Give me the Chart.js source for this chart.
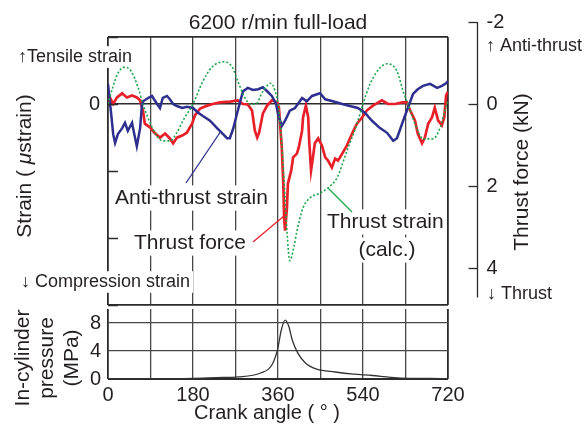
<!DOCTYPE html>
<html><head><meta charset="utf-8">
<script src="https://cdn.jsdelivr.net/npm/chart.js@4/dist/chart.umd.min.js"></script>
<style>
html,body{margin:0;padding:0;background:#fff;}
#wrap{position:relative;width:584px;height:428px;overflow:hidden;}
canvas{position:absolute;left:0;top:0;}
</style>
</head><body>
<div id="wrap"><canvas id="top" width="584" height="428"></canvas><canvas id="bot" width="584" height="428"></canvas></div>
<script>
// ---------- DATA ----------
const crankLabels = [0, 180, 360, 540, 720];
const thrustTicks = [-2, 0, 2, 4];
const pressureLabels = [0, 4, 8];

// Thrust strain (calc.) - green dotted, strain units (μstrain, 100 per division)
const calcDeg = [0,11,21,36,49,64,74,89,104,116,131,144,161,180,199,220,246,263,275,288,301,313,328,345,354,360,366,373,379,385,394,400,413,428,449,466,485,506,527,540,555,576,591,612,625,635,654,667,688,703,716,720];
const calcStrain = [0,27,46,55,49,24,0,-28,-48,-55,-55,-45,-22,0,31,55,63,55,34,12,0,0,19,31,19,0,-40,-115,-190,-234,-212,-190,-155,-140,-133,-125,-110,-70,-30,0,30,54,60,49,19,0,-36,-52,-52,-36,-3,4];

// Anti-thrust strain - blue
const antiDeg = [0,6,11,15,21,30,36,42,51,53,61,68,72,74,85,93,104,110,116,125,131,138,146,157,167,180,191,201,216,231,241,252,258,265,273,280,286,296,307,318,328,337,347,356,360,368,375,385,396,411,421,432,449,460,476,496,512,529,544,559,576,591,604,612,625,635,646,656,667,682,697,707,716,720];
const antiStrain = [30,-10,-45,-58,-45,-36,-28,-40,-28,-36,-63,-36,0,4,9,12,0,-6,9,12,7,0,-3,-6,-4,-6,-13,-18,-25,-36,-43,-51,-51,-37,-15,4,19,24,21,22,25,19,12,0,-15,-33,-25,-10,-6,9,4,12,16,7,4,0,-3,-6,-13,-25,-36,-43,-55,-51,-25,-6,15,22,27,30,24,27,31,34];

// Thrust force (kN) - red, right axis (positive = thrust, downward)
const forceDeg = [0,4,11,19,30,40,51,61,68,74,78,89,100,110,121,131,138,146,157,167,178,184,195,210,222,237,258,275,286,296,305,311,316,320,328,337,347,358,362,368,371,373,375,379,381,388,392,400,404,411,413,419,424,426,430,434,438,445,453,460,466,474,481,487,496,506,517,527,538,548,561,580,593,608,623,633,640,650,656,665,671,678,686,692,699,707,712,716,720];
const forceKN = [0,-0.16,0,-0.16,-0.26,-0.16,-0.21,-0.16,-0.09,0.16,0.48,0.57,0.72,0.82,0.72,0.84,0.96,0.82,0.77,0.70,0.48,0.28,0.11,0.04,0,-0.04,-0.06,-0.09,0,0.01,0.16,0.65,0.82,0.70,0.23,0.04,-0.09,-0.04,0.09,1.06,1.87,2.77,3.09,2.52,1.94,1.62,1.30,1.21,1.06,0.65,0.33,0.04,0.33,0.89,1.62,1.30,0.96,0.84,1.01,1.30,1.38,1.55,1.33,1.38,1.21,1.01,0.72,0.48,0.33,0.16,0.04,-0.09,0,0,-0.04,-0.04,0.16,0.40,0.72,0.96,0.82,0.48,0.33,0.09,0.40,0.52,0.33,-0.21,-0.30];

// In-cylinder pressure (MPa)
const presDeg = [0,90,180,230,276,323,347,359,367,375,383,390,402,418,442,481,520,560,599,639,680,720];
const presMPa = [0.05,0.05,0.1,0.2,0.3,0.86,2.0,4.2,7.0,8.4,7.5,5.6,3.7,2.3,1.4,1.0,0.7,0.5,0.24,0.1,0.08,0.05];

// axis ranges
const strainMin = -300, strainMax = 100;
const forceTop = -1.634, forceBottom = 4.902, forceAxisEnd = 4.72;

// ---------- STYLE ----------
const FONT = '"Liberation Sans", Arial, Helvetica, sans-serif';
const INK = '#231f20';
const GRID = '#474747';
const FRAME = '#2b2b2b';
const BLUE = '#2e2f8e';
const RED = '#e8202a';
const GREEN = '#1da64a';
Chart.defaults.font.family = FONT;
Chart.defaults.color = INK;

const zip = (xs, ys) => xs.map((x, i) => ({x, y: ys[i]}));

function textAt(ctx, s, x, y, size, align, box) {
  ctx.font = size + 'px ' + FONT;
  const w = ctx.measureText(s).width;
  const lx = align === 'center' ? x - w / 2 : x;
  if (box) { ctx.fillStyle = '#fff'; ctx.fillRect(lx - 3, y - size * 0.6, w + 6, size * 1.2); }
  ctx.fillStyle = INK; ctx.textAlign = 'left'; ctx.textBaseline = 'middle';
  ctx.fillText(s, lx, y);
}
function rotText(ctx, parts, cx, cy, size) {
  ctx.save();
  ctx.translate(cx, cy); ctx.rotate(-Math.PI / 2);
  ctx.textBaseline = 'middle'; ctx.textAlign = 'left'; ctx.fillStyle = INK;
  let total = 0; const ws = [];
  parts.forEach(p => { ctx.font = (p.i ? 'italic ' : '') + size + 'px ' + FONT; const w = ctx.measureText(p.t).width; ws.push(w); total += w; });
  let x = -total / 2;
  parts.forEach((p, k) => { ctx.font = (p.i ? 'italic ' : '') + size + 'px ' + FONT; ctx.fillText(p.t, x, 0); x += ws[k]; });
  ctx.restore();
}
function seg(ctx, color, x1, y1, x2, y2, w) {
  ctx.save(); ctx.strokeStyle = color; ctx.lineWidth = w || 1.3;
  ctx.beginPath(); ctx.moveTo(x1, y1); ctx.lineTo(x2, y2); ctx.stroke(); ctx.restore();
}

const topDecor = {
  id: 'topDecor',
  beforeDatasetsDraw(chart) {
    const ctx = chart.ctx;
    ctx.save();
    textAt(ctx, '\u2191Tensile strain', 18, 57, 18, 'left', true);
    textAt(ctx, '\u2193 Compression strain', 21, 282, 18, 'left', true);
    textAt(ctx, 'Anti-thrust strain', 115, 198, 21, 'left', true);
    textAt(ctx, 'Thrust force', 134, 243, 21, 'left', true);
    textAt(ctx, 'Thrust strain', 327, 222, 21, 'left', true);
    textAt(ctx, '(calc.)', 387, 250, 21, 'center', true);
    ctx.restore();
  },
  afterDraw(chart) {
    const ctx = chart.ctx, sy = chart.scales.y, s2 = chart.scales.y2, ca = chart.chartArea;
    ctx.save();
    // inward ticks on left strain axis
    ctx.strokeStyle = FRAME; ctx.lineWidth = 1.5;
    sy.ticks.forEach(t => {
      const y = Math.round(sy.getPixelForValue(t.value)) + 0.5;
      ctx.beginPath(); ctx.moveTo(ca.left, y); ctx.lineTo(ca.left + 10, y); ctx.stroke();
    });
    // right thrust force axis
    const ax = 477.5;
    ctx.lineWidth = 1.3;
    ctx.beginPath(); ctx.moveTo(ax, s2.getPixelForValue(thrustTicks[0])); ctx.lineTo(ax, s2.getPixelForValue(forceAxisEnd)); ctx.stroke();
    thrustTicks.forEach(v => {
      const y = Math.round(s2.getPixelForValue(v)) + 0.5;
      ctx.beginPath(); ctx.moveTo(ax - 9, y); ctx.lineTo(ax, y); ctx.stroke();
      textAt(ctx, String(v), ax + 9, y, 20, 'left', false);
    });
    textAt(ctx, '\u2191 Anti-thrust', 486, 46, 18, 'left', false);
    textAt(ctx, '\u2193 Thrust', 487, 294, 18, 'left', false);
    // title and axis titles
    textAt(ctx, '6200 r/min full-load', 278, 23, 21, 'center', false);
    rotText(ctx, [{t: 'Strain ( '}, {t: '\u03bc', i: true}, {t: 'strain)'}], 25, 166, 21);
    rotText(ctx, [{t: 'Thrust force (kN)'}], 522, 172, 21);
    // leader lines
    seg(ctx, BLUE, 186, 183, 221, 131, 1.3);
    seg(ctx, RED, 253, 242, 284, 216, 1.3);
    seg(ctx, GREEN, 328, 188, 352, 212, 1.3);
    ctx.restore();
  }
};

const topChart = new Chart(document.getElementById('top'), {
  type: 'line',
  data: {
    datasets: [
      {label: 'Thrust strain (calc.)', data: zip(calcDeg, calcStrain), yAxisID: 'y', borderColor: GREEN, borderWidth: 1.6, borderDash: [2, 2], pointRadius: 0, cubicInterpolationMode: 'monotone', fill: false},
      {label: 'Anti-thrust strain', data: zip(antiDeg, antiStrain), yAxisID: 'y', borderColor: BLUE, borderWidth: 2.5, pointRadius: 0, tension: 0, fill: false},
      {label: 'Thrust force', data: zip(forceDeg, forceKN), yAxisID: 'y2', borderColor: RED, borderWidth: 2.7, pointRadius: 0, tension: 0, fill: false}
    ]
  },
  options: {
    responsive: false, animation: false, events: [],
    layout: {padding: {left: 0, right: 136, top: 37, bottom: 0}},
    plugins: {legend: {display: false}, tooltip: {enabled: false}, title: {display: false}},
    scales: {
      x: {
        type: 'linear', min: 0, max: 720,
        ticks: {stepSize: 90, display: false},
        grid: {drawTicks: false, color: c => (c.tick.value === 0 || c.tick.value === 720) ? FRAME : GRID, lineWidth: c => (c.tick.value === 0 || c.tick.value === 720) ? 1.8 : 1.3},
        border: {display: false},
        afterFit: s => { s.height = 123; }
      },
      y: {
        type: 'linear', min: strainMin, max: strainMax,
        ticks: {stepSize: 100, callback: v => v === 0 ? '0' : '', font: {size: 20}, color: INK, padding: 8},
        grid: {drawTicks: false, color: c => (c.tick.value === 0 || c.tick.value === strainMax || c.tick.value === strainMin) ? FRAME : 'rgba(0,0,0,0)', lineWidth: c => c.tick.value === 0 ? 1.5 : 1.8},
        border: {display: false},
        afterFit: s => { s.width = 108; }
      },
      y2: {type: 'linear', position: 'right', min: forceTop, max: forceBottom, reverse: true, display: false}
    }
  },
  plugins: [topDecor]
});

const botDecor = {
  id: 'botDecor',
  afterDraw(chart) {
    const ctx = chart.ctx;
    ctx.save();
    rotText(ctx, [{t: 'In-cylinder'}], 23, 358, 21);
    rotText(ctx, [{t: 'pressure'}], 47, 358, 21);
    rotText(ctx, [{t: '(MPa)'}], 72, 358, 21);
    textAt(ctx, 'Crank angle ( \u00b0 )', 267, 413, 20, 'center', false);
    ctx.restore();
  }
};

const botChart = new Chart(document.getElementById('bot'), {
  type: 'line',
  data: {
    datasets: [
      {label: 'In-cylinder pressure', data: zip(presDeg, presMPa), borderColor: '#333', borderWidth: 1.3, pointRadius: 0, cubicInterpolationMode: 'monotone', fill: false}
    ]
  },
  options: {
    responsive: false, animation: false, events: [],
    layout: {padding: {left: 0, right: 136, top: 309, bottom: 0}},
    plugins: {legend: {display: false}, tooltip: {enabled: false}},
    scales: {
      x: {
        type: 'linear', min: 0, max: 720,
        ticks: {stepSize: 90, autoSkip: false, maxRotation: 0, callback: v => crankLabels.includes(v) ? String(v) : '', font: {size: 20}, color: INK, padding: 4},
        grid: {drawTicks: false, color: c => (c.tick.value === 0 || c.tick.value === 720) ? FRAME : GRID, lineWidth: c => (c.tick.value === 0 || c.tick.value === 720) ? 1.8 : 1.3},
        border: {display: false},
        afterFit: s => { s.height = 49; }
      },
      y: {
        type: 'linear', min: 0, max: 10,
        ticks: {stepSize: 2, callback: v => pressureLabels.includes(v) ? String(v) : '', font: {size: 20}, color: INK, padding: 7},
        grid: {drawTicks: false, color: c => (c.tick.value === 0 || c.tick.value === 10) ? FRAME : GRID, lineWidth: c => (c.tick.value === 0 || c.tick.value === 10) ? 2 : 1.3},
        border: {display: false},
        afterFit: s => { s.width = 108; }
      }
    }
  },
  plugins: [botDecor]
});
</script>
</body></html>
